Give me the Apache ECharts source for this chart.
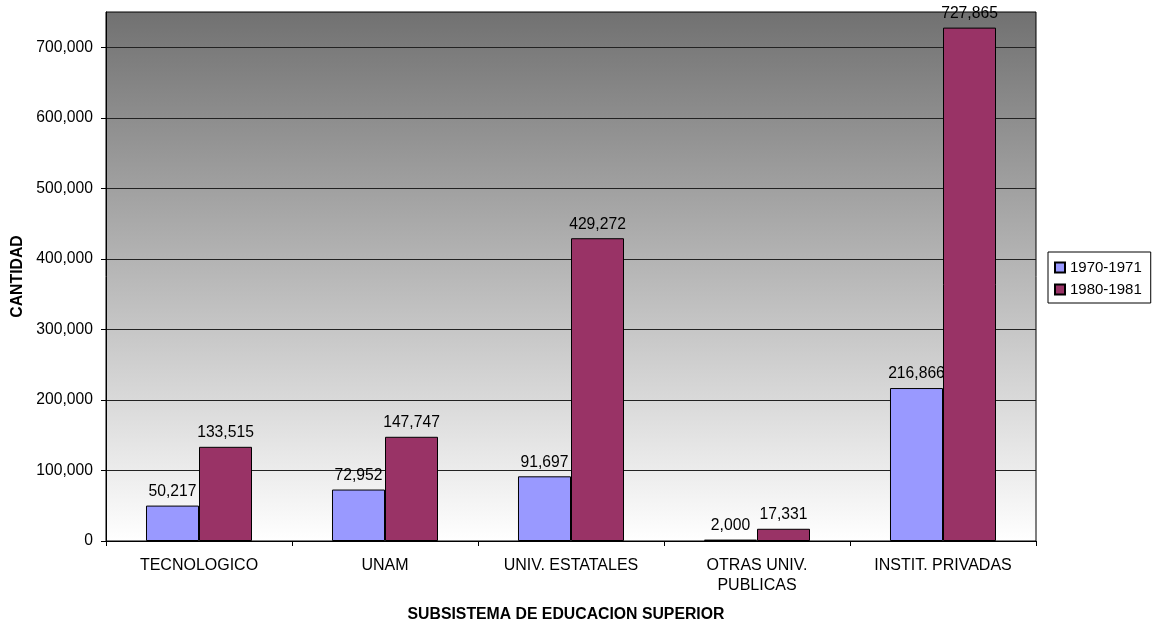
<!DOCTYPE html>
<html><head><meta charset="utf-8">
<script src="https://cdn.jsdelivr.net/npm/echarts@6/dist/echarts.min.js"></script>
<style>html,body{margin:0;padding:0;background:#fff}#c{width:1158px;height:623px}</style>
</head><body><div id="c"></div>
<script>
const categories = ['TECNOLOGICO', 'UNAM', 'UNIV. ESTATALES', 'OTRAS UNIV.\nPUBLICAS', 'INSTIT. PRIVADAS'];
const seriesNames = ['1970-1971', '1980-1981'];
const values1970 = [50217, 72952, 91697, 2000, 216866];
const values1980 = [133515, 147747, 429272, 17331, 727865];
const yTicks = [0, 100000, 200000, 300000, 400000, 500000, 600000, 700000];

const fmt = v => Number(v).toLocaleString('en-US');
const FONT = 'Liberation Sans, Arial, sans-serif';
const chart = echarts.init(document.getElementById('c'));
function bar(name, data, color) {
  return {
    name, type: 'bar', data, barGap: '0%', barCategoryGap: '43%',
    itemStyle: { color, borderColor: '#000', borderWidth: 1 },
    label: { show: true, position: 'top', distance: 6, color: '#000', fontSize: 15.7, fontFamily: FONT, formatter: p => fmt(p.value) }
  };
}
chart.setOption({
  animation: false,
  textStyle: { fontFamily: FONT },
  grid: {
    left: 106, right: 122, top: 12, bottom: 82, outerBoundsMode: 'none', containLabel: false,
    show: true, borderColor: '#000', borderWidth: 1,
    backgroundColor: { type: 'linear', x: 0, y: 0, x2: 0, y2: 1, colorStops: [{ offset: 0, color: '#717171' }, { offset: 1, color: '#ffffff' }] }
  },
  legend: {
    orient: 'vertical', left: 1048, top: 252, data: seriesNames, icon: 'rect', itemWidth: 10, itemHeight: 10, itemGap: 7,
    borderColor: '#000', borderWidth: 1, padding: [8, 9, 6, 6],
    textStyle: { fontSize: 15, color: '#000', fontFamily: FONT }
  },
  xAxis: {
    type: 'category', data: categories,
    name: 'SUBSISTEMA DE EDUCACION SUPERIOR', nameLocation: 'middle', nameGap: 66,
    nameTextStyle: { fontWeight: 'bold', fontSize: 15.8, color: '#000', fontFamily: FONT, padding: [0, 10, 0, 0] },
    axisLine: { lineStyle: { color: '#000' } },
    axisTick: { show: true, length: 5, lineStyle: { color: '#000' } },
    axisLabel: { color: '#000', fontSize: 16, margin: 15, lineHeight: 20, fontFamily: FONT }
  },
  yAxis: {
    type: 'value', min: 0, max: 750000, interval: 100000,
    name: 'CANTIDAD', nameLocation: 'middle', nameGap: 80,
    nameTextStyle: { fontWeight: 'bold', fontSize: 15.8, color: '#000', fontFamily: FONT },
    axisLine: { show: true, lineStyle: { color: '#000' } },
    axisTick: { show: true, length: 5, customValues: yTicks, lineStyle: { color: '#000' } },
    axisLabel: { color: '#000', fontSize: 15.7, margin: 13, fontFamily: FONT, customValues: yTicks, formatter: v => fmt(v) },
    splitLine: { lineStyle: { color: '#222', width: 1 } }
  },
  series: [bar(seriesNames[0], values1970, '#9999FF'), bar(seriesNames[1], values1980, '#993366')]
});
</script></body></html>
